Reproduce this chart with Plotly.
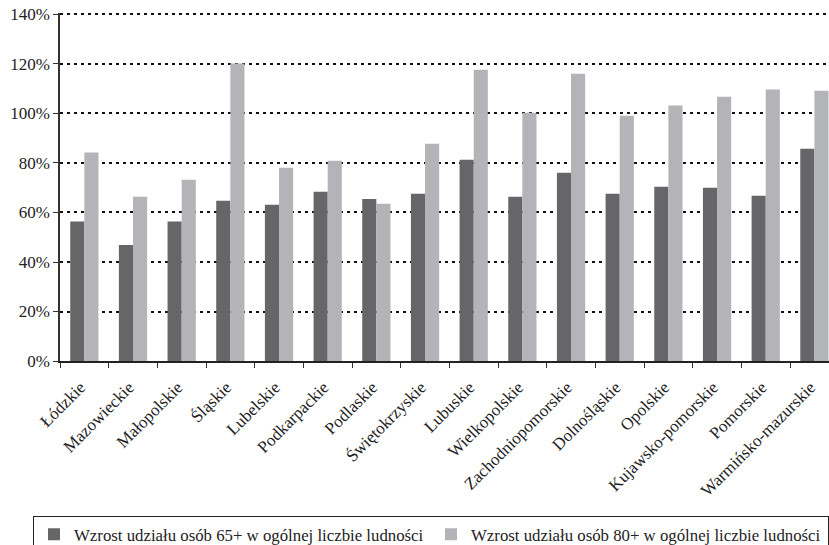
import plotly.graph_objects as go

regions = ["Łódzkie", "Mazowieckie", "Małopolskie", "Śląskie", "Lubelskie", "Podkarpackie",
           "Podlaskie", "Świętokrzyskie", "Lubuskie", "Wielkopolskie", "Zachodniopomorskie",
           "Dolnośląskie", "Opolskie", "Kujawsko-pomorskie", "Pomorskie", "Warmińsko-mazurskie"]
growth_65 = [56.4, 46.9, 56.4, 64.7, 63.1, 68.4, 65.5, 67.6, 81.3, 66.4, 76.1, 67.6, 70.4, 70.0, 66.8, 85.8]
growth_80 = [84.2, 66.4, 73.2, 120.2, 78.1, 80.9, 63.5, 87.8, 117.7, 100.3, 116.1, 99.1, 103.2, 106.8, 109.7, 109.2]
name_65 = "Wzrost udziału osób 65+ w ogólnej liczbie ludności"
name_80 = "Wzrost udziału osób 80+ w ogólnej liczbie ludności"
y_ticks = [0, 20, 40, 60, 80, 100, 120, 140]
y_labels = ["0%", "20%", "40%", "60%", "80%", "100%", "120%", "140%"]

font = "Liberation Serif, Times New Roman, serif"

fig = go.Figure()
fig.add_trace(go.Bar(x=regions, y=growth_65, name=name_65, marker=dict(color="#666668", line=dict(width=0))))
fig.add_trace(go.Bar(x=regions, y=growth_80, name=name_80, marker=dict(color="#b3b4b7", line=dict(width=0))))

fig.update_layout(
    width=829, height=545,
    margin=dict(l=60, r=0, t=13, b=184, pad=0, autoexpand=False),
    paper_bgcolor="white", plot_bgcolor="white",
    barmode="group", bargap=0.42, bargroupgap=0,
    font=dict(family=font, size=17, color="#222"),
    showlegend=True,
    legend=dict(orientation="h", x=-0.0351, y=-0.445, xanchor="left", yanchor="top",
                bordercolor="#222", borderwidth=1, font=dict(size=16.8, family=font, color="#222"),
                entrywidth=352, entrywidthmode="pixels", itemwidth=30, traceorder="normal"),
    xaxis=dict(range=[-0.5, 15.3], tickangle=-45, tickson="boundaries", ticks="outside",
               ticklen=5, tickcolor="#333", showline=True, linecolor="#222", linewidth=1.5,
               showgrid=False, ticklabelstandoff=8, ticklabelshift=-4,
               tickfont=dict(size=17, family=font, color="#222")),
    yaxis=dict(range=[0, 140.6], tickmode="array", tickvals=y_ticks, ticktext=y_labels,
               ticks="outside", ticklen=5, ticklabeloverflow="allow",
               tickcolor="#333", showline=True, linecolor="#333", linewidth=1.5,
               showgrid=True, gridcolor="#111", gridwidth=1.6, griddash="3px,4px",
               zeroline=False, tickfont=dict(size=17, family=font, color="#222")),
)

fig.write_html("out.html", config={"displayModeBar": False},
               post_script="document.body.style.margin='0';")
